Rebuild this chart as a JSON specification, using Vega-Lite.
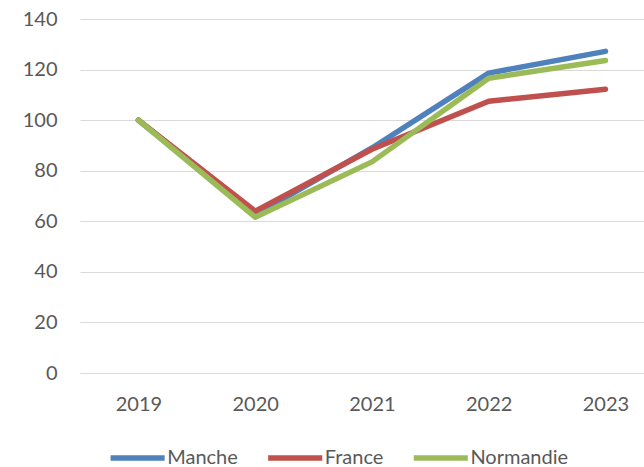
{
  "$schema": "https://vega.github.io/schema/vega-lite/v6.json",
  "autosize": {"type": "none"},
  "width": 564,
  "height": 354,
  "padding": {"left": 80, "top": 19, "right": 0, "bottom": 94},
  "background": "white",
  "config": {"view": {"stroke": null}, "font": "Lato"},
  "data": {"values": [
    {"year": 2019, "series": "Manche", "value": 100},
    {"year": 2020, "series": "Manche", "value": 62.5},
    {"year": 2021, "series": "Manche", "value": 89},
    {"year": 2022, "series": "Manche", "value": 118.6},
    {"year": 2023, "series": "Manche", "value": 127.2},
    {"year": 2019, "series": "France", "value": 100},
    {"year": 2020, "series": "France", "value": 64},
    {"year": 2021, "series": "France", "value": 88.5},
    {"year": 2022, "series": "France", "value": 107.5},
    {"year": 2023, "series": "France", "value": 112.2},
    {"year": 2019, "series": "Normandie", "value": 100},
    {"year": 2020, "series": "Normandie", "value": 61.6},
    {"year": 2021, "series": "Normandie", "value": 83.5},
    {"year": 2022, "series": "Normandie", "value": 116.6},
    {"year": 2023, "series": "Normandie", "value": 123.6}
  ]},
  "mark": {"type": "line", "strokeWidth": 5.5, "strokeCap": "round", "strokeJoin": "round"},
  "encoding": {
    "x": {
      "field": "year", "type": "quantitative",
      "scale": {"domain": [2018.5, 2023.33], "nice": false, "zero": false},
      "axis": {"values": [2019, 2020, 2021, 2022, 2023], "format": "d", "title": null, "grid": false, "domain": false, "ticks": false, "labelFontSize": 20, "labelColor": "#595959", "labelPadding": 21, "labelFlush": false}
    },
    "y": {
      "field": "value", "type": "quantitative",
      "scale": {"domain": [0, 140], "nice": false},
      "axis": {"values": [0, 20, 40, 60, 80, 100, 120, 140], "title": null, "domain": false, "ticks": false, "gridColor": "#d9d9d9", "gridWidth": 1, "labelFontSize": 20, "labelColor": "#595959", "labelPadding": 23}
    },
    "color": {
      "field": "series", "type": "nominal",
      "scale": {"domain": ["Manche", "France", "Normandie"], "range": ["#4F81BD", "#C0504D", "#9BBB59"]},
      "legend": {"title": null, "orient": "none", "direction": "horizontal", "legendX": 47.6, "legendY": 429, "padding": 0, "symbolType": "M-5,0H5", "symbolSize": 117, "symbolStrokeWidth": 5.5, "symbolFillColor": "transparent", "labelFontSize": 20, "labelColor": "#595959", "labelOffset": 19.6, "columnPadding": 17.6}
    },
    "order": {"field": "year"}
  }
}
